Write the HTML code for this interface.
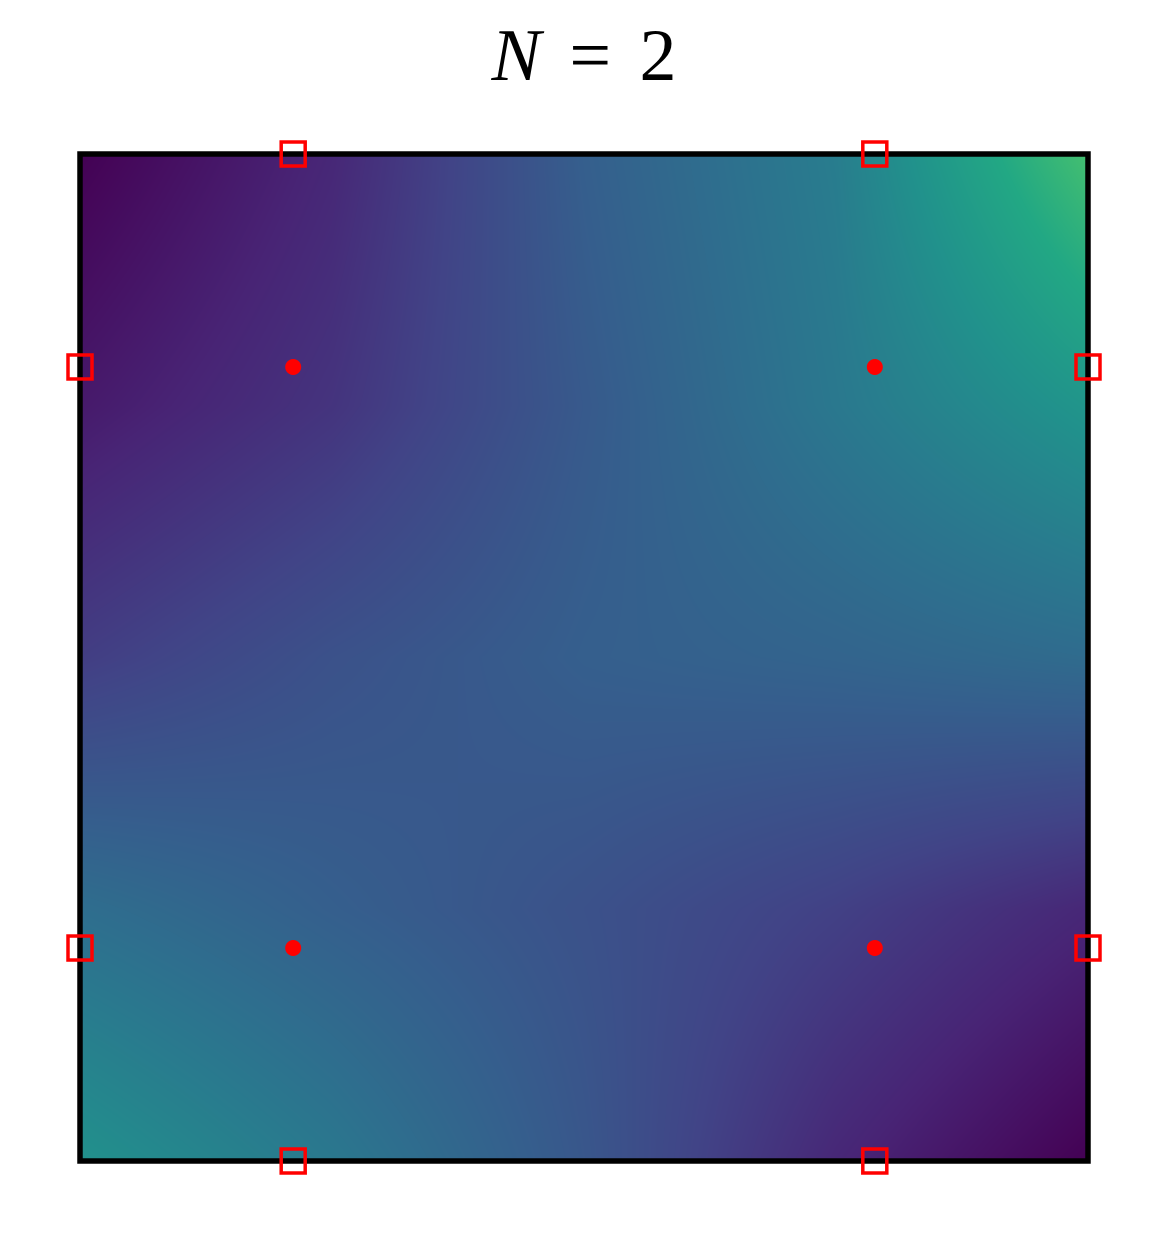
<!DOCTYPE html>
<html><head><meta charset="utf-8"><style>
html,body{margin:0;padding:0;background:#fff;width:1168px;height:1242px;overflow:hidden}
#wrap{position:relative;width:1168px;height:1242px}
#title{position:absolute;left:0;width:1168px;top:14px;text-align:center;font-family:"Liberation Serif",serif;font-size:74px;line-height:84px;color:#000;word-spacing:10px}
canvas{position:absolute;left:80px;top:154px}
svg{position:absolute;left:0;top:0}
</style></head><body>
<div id="wrap">
<div id="title"><i>N</i> = 2</div>
<canvas id="c" width="1008" height="1007"></canvas>
<svg id="s" width="1168" height="1242"></svg>
</div>
<script>
// field values sampled on a 5x5 grid (rows top->bottom, cols left->right), domain [-1,1]^2
const gridX = [-1, -0.5, 0, 0.5, 1];
const gridY = [1, 0.5, 0, -0.5, -1];
const row0 = [0.00, 0.11, 0.30, 0.42, 0.70];
const row1 = [0.07, 0.15, 0.28, 0.40, 0.52];
const row2 = [0.18, 0.25, 0.30, 0.32, 0.35];
const row3 = [0.36, 0.30, 0.25, 0.19, 0.11];
const row4 = [0.50, 0.40, 0.27, 0.11, 0.00];
const interiorX = [-0.577, 0.577];
const interiorY = [0.577, -0.577];
const boundaryX = [-0.577, 0.577];
const boundaryY = [0.577, -0.577];
const rows = [row0,row1,row2,row3,row4];
const vir = [[68,1,84],[72,36,117],[65,68,135],[53,95,141],[42,120,142],[33,145,140],[34,168,132],[68,191,112],[122,209,81],[189,223,38],[253,231,37]];
function cmap(t){t=Math.max(0,Math.min(1,t))*(vir.length-1);const i=Math.min(vir.length-2,Math.floor(t)),f=t-i;return vir[i].map((v,k)=>v+(vir[i+1][k]-v)*f);}
const L=80,T=154,W=1008,H=1007;
const sx=x=>L+(x+1)/2*W, sy=y=>T+(1-y)/2*H;
const cv=document.getElementById('c'),ctx=cv.getContext('2d'),img=ctx.createImageData(W,H);
for(let py=0;py<H;py++){const gy=py/(H-1)*4,j=Math.min(3,Math.floor(gy)),fy=gy-j;
 for(let px=0;px<W;px++){const gx=px/(W-1)*4,i=Math.min(3,Math.floor(gx)),fx=gx-i;
  const v=rows[j][i]*(1-fx)*(1-fy)+rows[j][i+1]*fx*(1-fy)+rows[j+1][i]*(1-fx)*fy+rows[j+1][i+1]*fx*fy;
  const c=cmap(v),o=(py*W+px)*4;img.data[o]=c[0];img.data[o+1]=c[1];img.data[o+2]=c[2];img.data[o+3]=255;}}
ctx.putImageData(img,0,0);
const s=document.getElementById('s'),NS='http://www.w3.org/2000/svg';
const fr=document.createElementNS(NS,'rect');
fr.setAttribute('x',L);fr.setAttribute('y',T);fr.setAttribute('width',W);fr.setAttribute('height',H);
fr.setAttribute('fill','none');fr.setAttribute('stroke','#000');fr.setAttribute('stroke-width','5.5');


s.appendChild(fr);
function sq(cx,cy){const r=document.createElementNS(NS,'rect');
 r.setAttribute('x',cx-12);r.setAttribute('y',cy-12);r.setAttribute('width',24);r.setAttribute('height',24);
 r.setAttribute('fill','none');r.setAttribute('stroke','#ff0000');r.setAttribute('stroke-width','3.5');
 
 
 s.appendChild(r);}
boundaryX.forEach(x=>{sq(sx(x),sy(1));sq(sx(x),sy(-1));});
boundaryY.forEach(y=>{sq(sx(-1),sy(y));sq(sx(1),sy(y));});
interiorX.forEach(x=>interiorY.forEach(y=>{const c=document.createElementNS(NS,'circle');
 c.setAttribute('cx',sx(x));c.setAttribute('cy',sy(y));c.setAttribute('r',8);c.setAttribute('fill','#ff0000');
 
 
 s.appendChild(c);}));
</script>
</body></html>
